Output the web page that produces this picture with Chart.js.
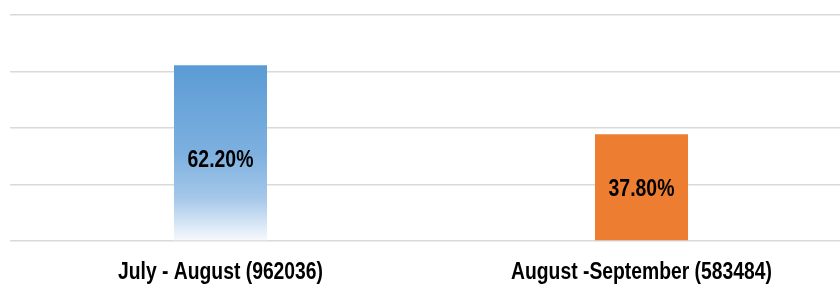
<!DOCTYPE html>
<html>
<head>
<meta charset="utf-8">
<script src="https://cdn.jsdelivr.net/npm/chart.js@4"></script>
<style>
  html, body { margin: 0; padding: 0; background: #fff; overflow: hidden; }
  #wrap { position: absolute; left: 0; top: 0; width: 852px; height: 286px; }
</style>
</head>
<body>
<div id="wrap"><canvas id="chart"></canvas></div>
<script>
const categories = ['July - August (962036)', 'August -September (583484)']
const shares = [62.2, 37.8]
const valueLabels = ['62.20%', '37.80%']

const FONT = '"Liberation Sans", Arial, sans-serif'

// 1本目は上から下へ白くなるグラデーション
const barFill = (context) => {
  const chart = context.chart
  const area = chart.chartArea
  if (!area) return '#5B9BD5'
  if (context.dataIndex === 1) return '#ED7D31'
  const top = chart.scales.y.getPixelForValue(shares[0])
  const g = chart.ctx.createLinearGradient(0, top, 0, area.bottom)
  g.addColorStop(0, '#5B9BD5')
  g.addColorStop(0.5, '#7DB0DF')
  g.addColorStop(0.76, '#A6C8EA')
  g.addColorStop(1, '#F7FAFD')
  return g
}

// 細長い文字 (Arial Narrow 風) を横方向に縮めて描く
const narrowText = (ctx, text, x, y, size, squeeze) => {
  ctx.save()
  ctx.font = 'bold ' + size + 'px ' + FONT
  ctx.fillStyle = '#000'
  ctx.textAlign = 'center'
  ctx.textBaseline = 'alphabetic'
  ctx.translate(x, y)
  ctx.scale(squeeze, 1)
  ctx.fillText(text, 0, 0)
  ctx.restore()
}

const labelsPlugin = {
  id: 'labelsPlugin',
  afterDatasetsDraw(chart) {
    const ctx = chart.ctx
    const meta = chart.getDatasetMeta(0)
    meta.data.forEach((bar, i) => {
      const mid = (bar.y + bar.base) / 2
      narrowText(ctx, valueLabels[i], bar.x, mid + 8.6 + (i === 0 ? 6 : 0), 24, 0.81)
      narrowText(ctx, categories[i], bar.x, chart.chartArea.bottom + 38, 23, 0.84)
    })
  }
}

new Chart(document.getElementById('chart'), {
  type: 'bar',
  data: {
    labels: categories,
    datasets: [{
      data: shares,
      backgroundColor: barFill,
      borderWidth: 0,
      categoryPercentage: 1,
      barPercentage: 0.221
    }]
  },
  options: {
    responsive: true,
    maintainAspectRatio: false,
    animation: false,
    layout: { padding: { left: 10, top: 15, right: 0, bottom: 45 } },
    plugins: {
      legend: { display: false },
      tooltip: { enabled: false }
    },
    scales: {
      x: {
        grid: { display: false, drawTicks: false },
        border: { display: false },
        ticks: { display: false }
      },
      y: {
        min: 0,
        max: 80,
        ticks: { display: false, stepSize: 20 },
        border: { display: false },
        grid: {
          drawTicks: false,
          color: '#d9d9d9',
          lineWidth: 1.5
        }
      }
    }
  },
  plugins: [labelsPlugin]
})
</script>
</body>
</html>
